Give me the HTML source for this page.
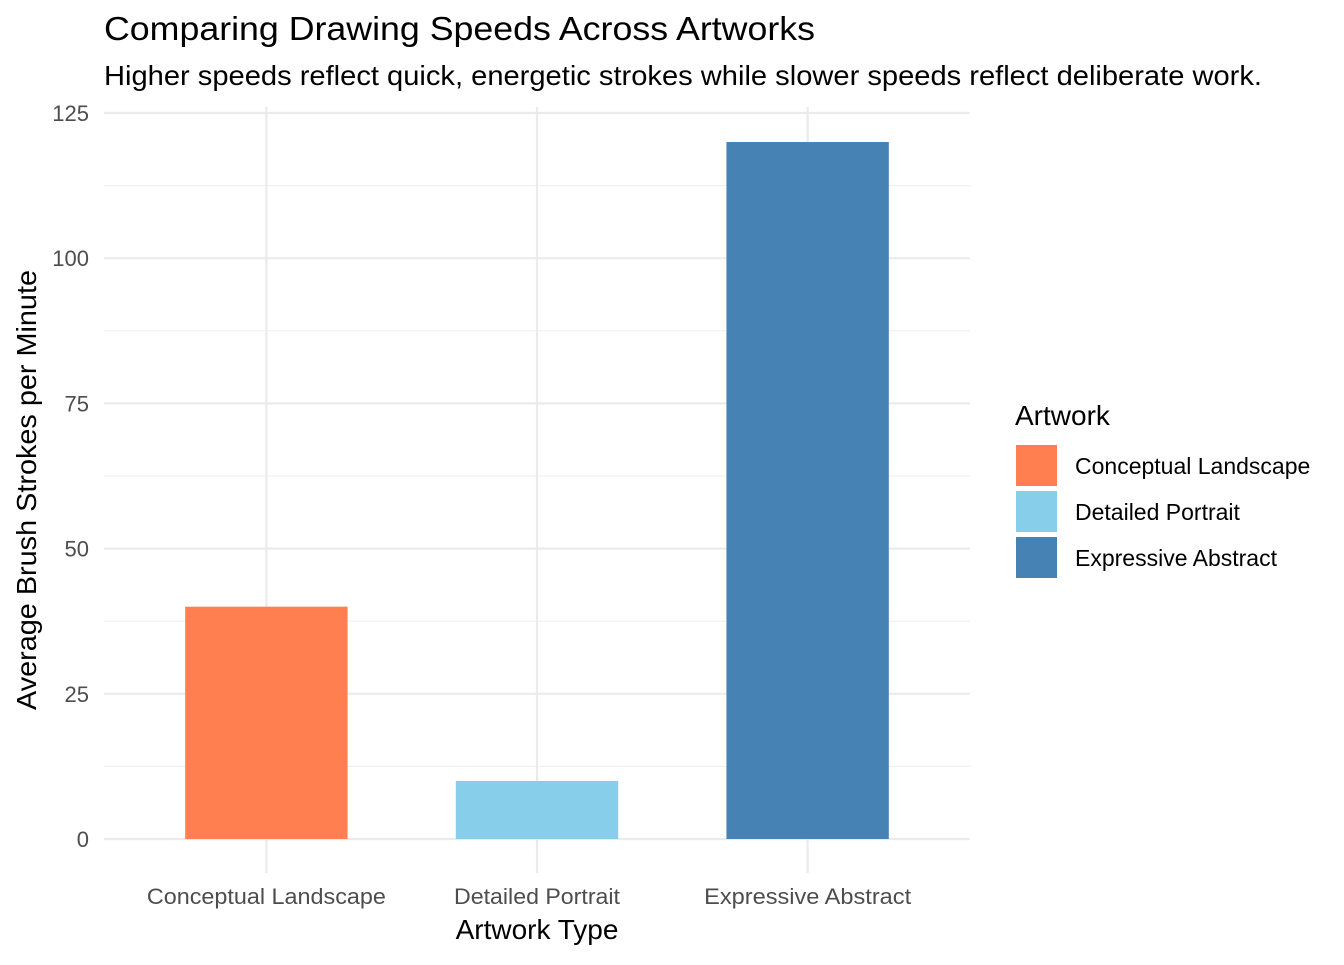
<!DOCTYPE html>
<html><head><meta charset="utf-8"><style>
body{margin:0;background:#fff;font-family:"Liberation Sans",sans-serif}
svg text{font-family:"Liberation Sans",sans-serif}
</style></head><body>
<svg width="1344" height="960" xmlns="http://www.w3.org/2000/svg">
<text x="104" y="40" font-size="33" textLength="711" lengthAdjust="spacingAndGlyphs" fill="#000">Comparing Drawing Speeds Across Artworks</text>
<text x="104" y="85" font-size="28" textLength="1158" lengthAdjust="spacingAndGlyphs" fill="#000">Higher speeds reflect quick, energetic strokes while slower speeds reflect deliberate work.</text>
<g id="grid"></g>
<g id="bars"></g>
<g id="yticks"></g>
<g id="xticks"></g>
<text x="537" y="939" font-size="28" text-anchor="middle" fill="#000">Artwork Type</text>
<text transform="translate(36,490) rotate(-90)" font-size="28" text-anchor="middle" textLength="440" lengthAdjust="spacingAndGlyphs" fill="#000">Average Brush Strokes per Minute</text>
<g id="legend">
<text x="1015" y="425" font-size="28" fill="#000">Artwork</text>
</g>
</svg>
<script>
const categories=["Conceptual Landscape","Detailed Portrait","Expressive Abstract"];
const values=[40,10,120];
const colors=["#FF7F50","#87CEEB","#4682B4"];
const yTicks=[0,25,50,75,100,125];
const labelWidths=[239,166,207];
const NS="http://www.w3.org/2000/svg";
const px0=104,px1=970,py0=839,py1=113;
const y=v=>py0-(v/125)*(py0-py1);
const step=(px1-px0)/3.2;
const x=i=>px0+(i+0.6)*step;
function mk(tag,attrs,parent){const e=document.createElementNS(NS,tag);for(const k in attrs)e.setAttribute(k,attrs[k]);parent.appendChild(e);return e;}
const grid=document.getElementById('grid');
for(let i=0;i<yTicks.length-1;i++){const v=(yTicks[i]+yTicks[i+1])/2;
 const l=mk('line',{x1:px0,x2:px1,y1:y(v),y2:y(v),stroke:'#f0f0f0','stroke-width':1.2},grid);
 
 }
yTicks.forEach(v=>{const l=mk('line',{x1:px0,x2:px1,y1:y(v),y2:y(v),stroke:'#ebebeb','stroke-width':2.2},grid);
 
 });
categories.forEach((c,i)=>{const l=mk('line',{x1:x(i),x2:x(i),y1:107,y2:873,stroke:'#ebebeb','stroke-width':2.2},grid);
 
 });
const bars=document.getElementById('bars');const bw=step*0.6;
values.forEach((v,i)=>{const r=mk('rect',{x:x(i)-bw/2,y:y(v),width:bw,height:y(0)-y(v),fill:colors[i]},bars);
 
 });
const yt=document.getElementById('yticks');
yTicks.forEach(v=>{const t=mk('text',{x:89,y:y(v)+8,'font-size':22,'text-anchor':'end',fill:'#4d4d4d'},yt);t.textContent=v;
 
 });
const xt=document.getElementById('xticks');
categories.forEach((c,i)=>{const t=mk('text',{x:x(i),y:904,'font-size':22,'text-anchor':'middle',fill:'#4d4d4d',textLength:labelWidths[i],lengthAdjust:'spacingAndGlyphs'},xt);t.textContent=c;
 
 });
const lg=document.getElementById('legend');
categories.forEach((c,i)=>{const yy=445+i*46;
 const r=mk('rect',{x:1016,y:yy,width:41,height:41,fill:colors[i]},lg);
 
 
 const t=mk('text',{x:1075,y:yy+29,'font-size':23,fill:'#000'},lg);t.textContent=c;
 
 });
</script>
</body></html>
